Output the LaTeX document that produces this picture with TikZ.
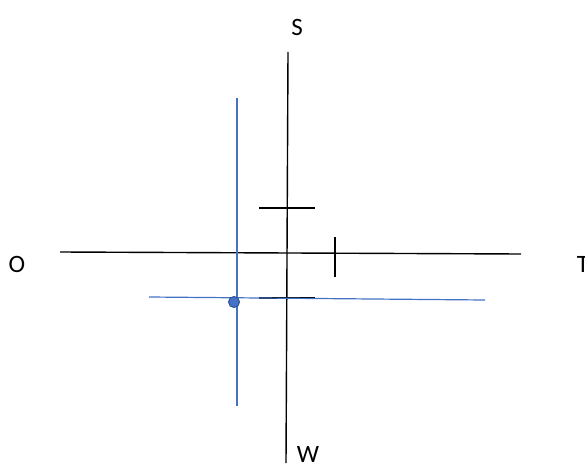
\documentclass[tikz,border=0pt]{standalone}
\usepackage{fontspec}
\setmainfont{Carlito}
\definecolor{offblue}{HTML}{4472C4}
\definecolor{darkblue}{HTML}{2F528F}
\begin{document}
\begin{tikzpicture}[x=1pt,y=-1pt,
  axis/.style={draw=black,line width=1.4pt},
  blueline/.style={draw=offblue,line width=1.2pt},
  lbl/.style={inner sep=0pt,font=\fontsize{25}{29}\selectfont},
  pt/.style={circle,fill=offblue,draw=darkblue,line width=1pt,minimum size=11pt,inner sep=0pt}]
\useasboundingbox[fill=white] (0,0) rectangle (585,465);
% labels
\node[lbl] (S) at (297,27) {S};
\node[lbl] (O) at (17,264) {O};
\node[lbl] (T) at (583,264) {T};
\node[lbl] (W) at (308,454) {W};
% black axes
\coordinate (vtop) at (288,52);
\coordinate (vbot) at (286,463);
\coordinate (hleft) at (60,252);
\coordinate (hright) at (521,254);
\draw[axis] (vtop) -- (vbot);
\draw[axis] (hleft) -- (hright);
% ticks
\coordinate (t1a) at (259,208); \coordinate (t1b) at (315,208);
\coordinate (t2a) at (335,237); \coordinate (t2b) at (335,277);
\coordinate (t3a) at (259,298); \coordinate (t3b) at (315,298);
\draw[axis] (t1a) -- (t1b);
\draw[axis] (t2a) -- (t2b);
\draw[axis] (t3a) -- (t3b);
% blue lines
\coordinate (bvtop) at (237,98);
\coordinate (bvbot) at (237,406);
\coordinate (bhleft) at (149,297);
\coordinate (bhright) at (485,300);
\draw[blueline] (bvtop) -- (bvbot);
\draw[blueline] (bhleft) -- (bhright);
\node[pt] (P) at (234,302) {};
\end{tikzpicture}
\end{document}
